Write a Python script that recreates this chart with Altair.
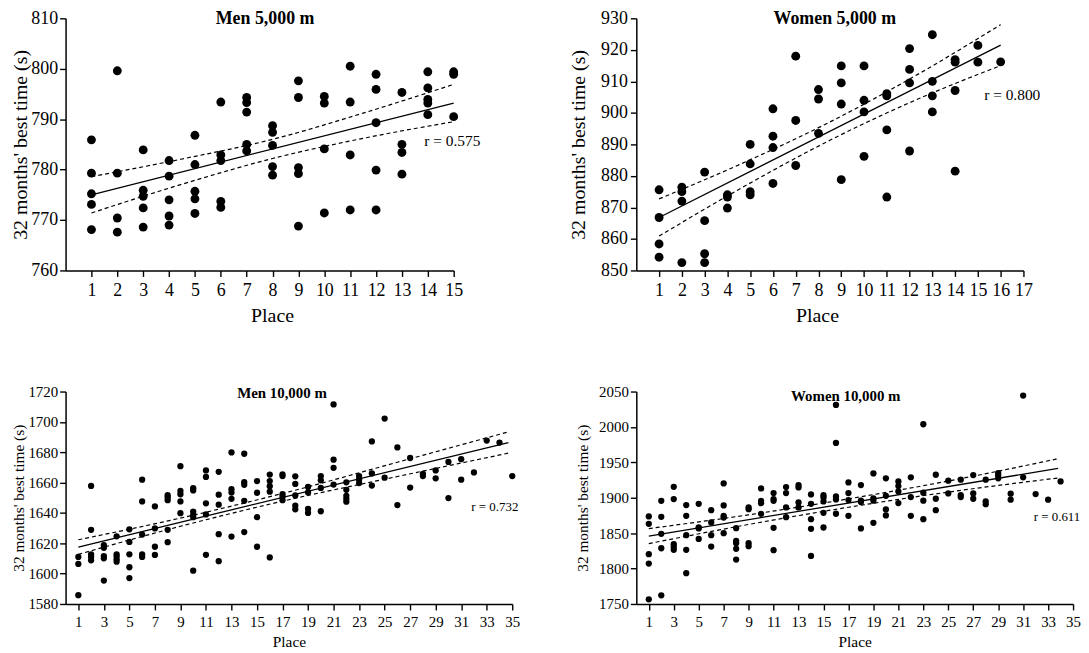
import altair as alt
import pandas as pd

FONT = "Liberation Serif"
YTITLE = "32 months' best time (s)"

# ---------------- Men 5,000 m (times in s, listed per finishing place 1..15)
men5k_times = [
    [785.9, 779.3, 775.2, 773.1, 768.1],
    [799.6, 779.3, 770.4, 767.6],
    [783.9, 775.9, 774.7, 772.4, 768.6],
    [781.8, 778.7, 774.0, 770.8, 769.0],
    [786.8, 781.0, 775.7, 774.2, 771.3],
    [793.4, 782.9, 781.8, 773.7, 772.5],
    [794.3, 793.3, 791.4, 785.0, 783.7],
    [788.7, 787.4, 784.8, 780.6, 778.9],
    [797.6, 794.3, 780.4, 779.2, 768.8],
    [794.5, 793.2, 784.1, 771.4],
    [800.5, 793.4, 782.9, 772.0],
    [798.9, 795.9, 789.3, 779.9, 772.0],
    [795.3, 785.0, 783.4, 779.1],
    [799.4, 796.2, 793.9, 793.2, 790.9],
    [799.4, 798.9, 790.5],
]
men5k_fit_x = [1, 15]
men5k_fit_y = [775.0, 793.2]
men5k_ci_x = [1, 4.5, 8, 11.5, 15]
men5k_ci_upper = [778.6, 782.1, 786.0, 791.2, 796.9]
men5k_ci_lower = [771.4, 777.1, 782.2, 786.2, 789.5]

# ---------------- Women 5,000 m (places 1..16)
women5k_times = [
    [875.6, 866.8, 858.4, 854.2],
    [876.4, 875.0, 872.0, 852.5],
    [881.2, 865.8, 855.3, 852.5],
    [874.0, 873.3, 869.8],
    [890.0, 883.8, 875.0, 874.0],
    [901.3, 892.6, 889.0, 877.6],
    [918.0, 897.6, 883.3],
    [907.4, 904.4, 893.5],
    [914.9, 909.5, 902.8, 878.8],
    [914.9, 904.0, 900.3, 886.2],
    [906.1, 905.4, 894.6, 873.3],
    [920.4, 913.8, 909.5, 887.9],
    [924.8, 910.0, 905.4, 900.3],
    [916.9, 916.1, 907.1, 881.5],
    [921.4, 916.1],
    [916.2],
]
women5k_fit_x = [1, 16]
women5k_fit_y = [866.8, 921.5]
women5k_ci_x = [1, 4.5, 8.5, 12.5, 16]
women5k_ci_upper = [872.7, 883.5, 897.1, 912.8, 928.0]
women5k_ci_lower = [860.9, 875.7, 891.3, 904.8, 915.0]

# ---------------- Men 10,000 m (places 1..35)
men10k_times = [
    [1611.0, 1606.4, 1585.8],
    [1657.8, 1628.9, 1612.7, 1611.0, 1608.8],
    [1618.8, 1617.0, 1611.6, 1610.1, 1595.4],
    [1624.6, 1612.7, 1611.2, 1609.4, 1607.9],
    [1629.2, 1620.9, 1612.7, 1604.2, 1597.1],
    [1661.9, 1647.6, 1625.7, 1612.7, 1611.0],
    [1644.3, 1629.8, 1617.7, 1612.3],
    [1651.7, 1650.2, 1648.4, 1628.9, 1620.7],
    [1670.8, 1654.5, 1652.3, 1647.6, 1639.8],
    [1656.3, 1654.8, 1640.9, 1638.7, 1637.2, 1601.9],
    [1668.0, 1663.7, 1646.3, 1639.0, 1612.4],
    [1667.1, 1652.0, 1645.4, 1626.0, 1608.2],
    [1679.9, 1655.6, 1653.4, 1649.3, 1624.4],
    [1679.0, 1660.3, 1658.5, 1648.0, 1627.4],
    [1661.0, 1653.3, 1637.2, 1617.7],
    [1665.3, 1661.0, 1657.6, 1654.0, 1610.7],
    [1665.4, 1664.3, 1652.3, 1650.6, 1648.4],
    [1664.1, 1659.1, 1651.5, 1644.8, 1642.4],
    [1657.1, 1653.5, 1642.6, 1640.0],
    [1664.3, 1661.5, 1656.5, 1641.1],
    [1711.5, 1675.1, 1669.7, 1658.7],
    [1660.2, 1655.2, 1651.3, 1649.3, 1647.4],
    [1664.3, 1662.1, 1659.7],
    [1687.1, 1666.0, 1658.0],
    [1702.2, 1663.2],
    [1683.2, 1645.2],
    [1676.2, 1656.7],
    [1665.8, 1664.3],
    [1668.0, 1662.8],
    [1673.6, 1649.8],
    [1675.4, 1661.9],
    [1666.7],
    [1687.7],
    [1686.4],
    [1664.3],
]
men10k_fit_x = [1, 34.7]
men10k_fit_y = [1617.5, 1686.4]
men10k_ci_x = [1, 9, 17.5, 26, 34.7]
men10k_ci_upper = [1622.3, 1636.6, 1653.9, 1673.4, 1693.4]
men10k_ci_lower = [1612.7, 1631.2, 1648.7, 1664.0, 1679.4]

# ---------------- Women 10,000 m (places 1..34)
women10k_times = [
    [1873.6, 1863.2, 1820.3, 1807.0, 1756.6],
    [1895.7, 1873.1, 1849.0, 1828.7, 1762.2],
    [1915.5, 1898.1, 1834.4, 1830.6, 1826.4],
    [1889.6, 1874.5, 1847.1, 1826.4, 1793.4],
    [1891.5, 1858.0, 1856.6, 1841.9],
    [1882.5, 1865.1, 1847.1, 1831.1],
    [1920.2, 1889.1, 1874.5, 1872.1, 1850.0],
    [1857.1, 1839.1, 1835.8, 1827.8, 1812.7],
    [1886.3, 1883.9, 1835.8, 1831.6],
    [1913.2, 1895.7, 1892.4, 1877.3],
    [1906.6, 1898.1, 1895.7, 1857.5, 1825.9],
    [1915.1, 1906.6, 1886.3, 1872.6],
    [1917.9, 1914.6, 1893.4, 1886.3],
    [1904.7, 1891.5, 1869.8, 1856.1, 1817.9],
    [1903.7, 1900.4, 1894.8, 1878.7, 1858.0],
    [2031.1, 1977.4, 1901.9, 1897.6, 1877.4],
    [1921.7, 1906.6, 1896.7, 1874.5],
    [1917.9, 1895.8, 1893.9, 1856.6],
    [1934.4, 1899.1, 1895.8, 1864.6],
    [1927.4, 1902.8, 1883.5, 1875.0],
    [1923.1, 1916.5, 1909.0, 1892.5],
    [1928.8, 1900.9, 1874.5],
    [2003.8, 1907.1, 1895.8, 1869.8],
    [1932.5, 1898.6, 1882.5],
    [1924.1, 1906.1],
    [1925.5, 1903.8, 1900.9],
    [1932.1, 1906.1, 1898.6],
    [1925.5, 1894.8, 1891.0],
    [1934.9, 1931.6, 1927.4],
    [1905.7, 1897.2],
    [2044.3, 1928.8],
    [1905.2],
    [1897.2],
    [1923.1],
]
women10k_fit_x = [1, 33.8]
women10k_fit_y = [1845.8, 1941.5]
women10k_ci_x = [1, 9, 17, 25, 33.8]
women10k_ci_upper = [1856.4, 1875.9, 1898.4, 1923.6, 1955.1]
women10k_ci_lower = [1835.2, 1862.3, 1886.6, 1908.0, 1927.9]

# tick labels
men5k_xticks = list(range(1, 16))
women5k_xticks = list(range(1, 18))
tenk_xticks = list(range(1, 36, 2))
men5k_yticks = [760, 770, 780, 790, 800, 810]
women5k_yticks = [850, 860, 870, 880, 890, 900, 910, 920, 930]
men10k_yticks = [1580, 1600, 1620, 1640, 1660, 1680, 1700, 1720]
women10k_yticks = [1750, 1800, 1850, 1900, 1950, 2000, 2050]


def make_panel(times, fit_x, fit_y, ci_x, ci_up, ci_lo, r_label, r_x, r_y,
               title, title_x, title_y, width, height, x_max, x_ticks,
               y_dom, y_ticks, big, x_title_x=None, y_title_pad=4, y_label_pad=3):
    rows = []
    for i, ts in enumerate(times):
        for t in ts:
            rows.append({"place": i + 1, "time": t, "kind": "pt", "t": ""})
    for x, y in zip(fit_x, fit_y):
        rows.append({"place": x, "time": y, "kind": "fit", "t": ""})
    for x, y in zip(ci_x, ci_up):
        rows.append({"place": x, "time": y, "kind": "up", "t": ""})
    for x, y in zip(ci_x, ci_lo):
        rows.append({"place": x, "time": y, "kind": "lo", "t": ""})
    rows.append({"place": r_x, "time": r_y, "kind": "r", "t": r_label})
    df = pd.DataFrame(rows)

    lab = 18 if big else 15
    ttl = 20 if big else 15.5
    xs = alt.Scale(domain=[0, x_max], nice=False, zero=False)
    ys = alt.Scale(domain=y_dom, nice=False, zero=False)
    common = dict(grid=False, domainColor="black", domainWidth=1.5,
                  tickColor="black", tickWidth=1.4, tickSize=6,
                  labelColor="black", labelFont=FONT, labelFontSize=lab,
                  labelOverlap=False, labelFlush=False, format="d",
                  titleColor="black", titleFont=FONT, titleFontSize=ttl,
                  titleFontWeight="normal")
    xkw = dict(values=x_ticks, labelPadding=5,
               titlePadding=6 if big else 5, **common)
    if x_title_x is not None:
        xkw["titleX"] = x_title_x
    X = alt.X("place:Q", scale=xs, axis=alt.Axis(**xkw), title="Place")
    Y = alt.Y("time:Q", scale=ys,
              axis=alt.Axis(values=y_ticks, labelPadding=y_label_pad,
                            titlePadding=y_title_pad, **common),
              title=YTITLE)
    base = alt.Chart(df).encode(x=X, y=Y)

    points = base.transform_filter(alt.datum.kind == "pt").mark_circle(
        size=80 if big else 40, color="black", opacity=1)
    fit = base.transform_filter(alt.datum.kind == "fit").mark_line(
        color="black", strokeWidth=1.3)
    up = base.transform_filter(alt.datum.kind == "up").mark_line(
        color="black", strokeWidth=1.2, strokeDash=[4, 3], interpolate="monotone")
    lo = base.transform_filter(alt.datum.kind == "lo").mark_line(
        color="black", strokeWidth=1.2, strokeDash=[4, 3], interpolate="monotone")
    rtext = base.transform_filter(alt.datum.kind == "r").mark_text(
        align="right", baseline="middle", font=FONT, fontSize=15.5 if big else 13,
        color="black").encode(text="t:N")
    ttext = alt.Chart(pd.DataFrame({"t": [title]})).mark_text(
        align="center", baseline="middle", font=FONT, fontWeight="bold",
        fontSize=18 if big else 15, color="black"
    ).encode(x=alt.value(title_x), y=alt.value(title_y), text="t:N")
    return alt.layer(points, fit, up, lo, rtext, ttext).properties(
        width=width, height=height)


p1 = make_panel(men5k_times, men5k_fit_x, men5k_fit_y, men5k_ci_x, men5k_ci_upper,
                men5k_ci_lower, "r = 0.575", 16.03, 785.6, "Men 5,000 m", 201, 1,
                391, 254, 15, men5k_xticks, [760, 810], men5k_yticks, True,
                x_title_x=208, y_title_pad=0, y_label_pad=2)
p2 = make_panel(women5k_times, women5k_fit_x, women5k_fit_y, women5k_ci_x,
                women5k_ci_upper, women5k_ci_lower, "r = 0.800", 17.74, 905.6,
                "Women 5,000 m", 200, 1, 390, 254, 17, women5k_xticks,
                [850, 930], women5k_yticks, True, x_title_x=182, y_title_pad=12)
p3 = make_panel(men10k_times, men10k_fit_x, men10k_fit_y, men10k_ci_x,
                men10k_ci_upper, men10k_ci_lower, "r = 0.732", 35.48, 1644.1,
                "Men 10,000 m", 218, 1, 450, 214, 35, tenk_xticks,
                [1580, 1720], men10k_yticks, False, y_title_pad=1, y_label_pad=2)
p4 = make_panel(women10k_times, women10k_fit_x, women10k_fit_y, women10k_ci_x,
                women10k_ci_upper, women10k_ci_lower, "r = 0.611", 35.58, 1872.2,
                "Women 10,000 m", 211, 5, 440, 214, 35, tenk_xticks,
                [1750, 2050], women10k_yticks, False, y_title_pad=8, y_label_pad=2)

chart = alt.concat(
    p1, p2, p3, p4, columns=2, spacing={"row": 122, "column": 125}, bounds="flush"
).properties(
    padding={"left": 3, "top": -1, "right": 0, "bottom": 0},
    background="white",
).configure_view(stroke=None).configure_axis(labelOverlap=False)

chart.save("out.html", embed_options={"renderer": "svg", "actions": False})
